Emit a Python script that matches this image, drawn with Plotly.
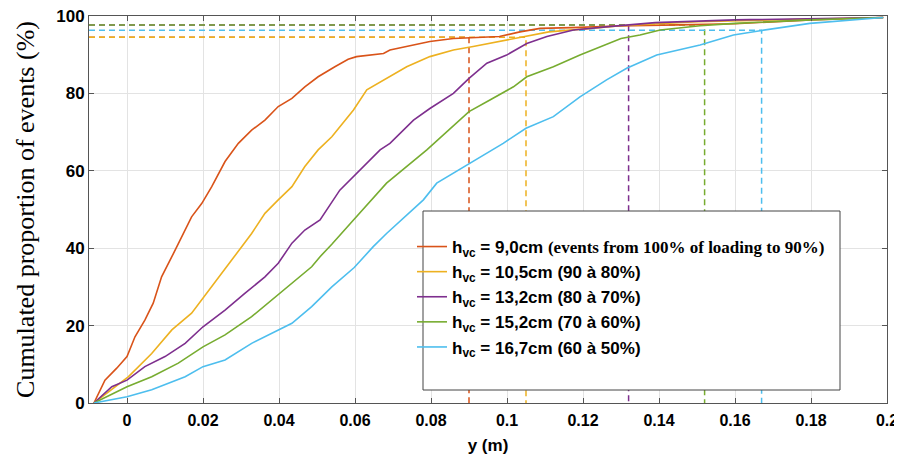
import plotly.graph_objects as go

# ---------------- data ----------------
series_names = [
    "<b>h<sub>vc</sub> = 9,0cm <span style=\"font-family:'Liberation Serif', serif\">(events from 100% of loading to 90%)</span></b>",
    "<b>h<sub>vc</sub> = 10,5cm (90 à 80%)</b>",
    "<b>h<sub>vc</sub> = 13,2cm (80 à 70%)</b>",
    "<b>h<sub>vc</sub> = 15,2cm (70 à 60%)</b>",
    "<b>h<sub>vc</sub> = 16,7cm (60 à 50%)</b>",
]
colors = ["#D95319", "#EDB120", "#7E2F8E", "#77AC30", "#4DBEEE"]

orange_x = [-0.0087, -0.0058, -0.0027, 0.0, 0.0021, 0.0047, 0.0069, 0.0091, 0.0118, 0.0144, 0.017, 0.0197,
            0.0223, 0.0258, 0.0293, 0.0328, 0.0363, 0.0398, 0.0434, 0.0468, 0.0503, 0.0547, 0.0582, 0.0604,
            0.0675, 0.0692, 0.0797, 0.0859, 0.098, 0.1034, 0.1087, 0.117, 0.129, 0.145, 0.16, 0.18, 0.199]
orange_y = [0, 5.9, 9.0, 12.0, 17.1, 21.4, 25.8, 32.6, 37.8, 43.0, 48.1, 51.6,
            55.9, 62.4, 67.1, 70.5, 73.1, 76.6, 78.7, 81.7, 84.3, 86.9, 88.8, 89.5,
            90.3, 91.2, 93.4, 94.2, 94.7, 95.9, 96.8, 97.0, 97.4, 97.7, 98.0, 99.0, 99.6]

yellow_x = [-0.0087, 0.0004, 0.0065, 0.0118, 0.017, 0.0223, 0.0276, 0.0328, 0.0363, 0.0398, 0.0434, 0.0468,
            0.0503, 0.0539, 0.0574, 0.0596, 0.0631, 0.0675, 0.0736, 0.0797, 0.0859, 0.0911, 0.098, 0.1052,
            0.111, 0.122, 0.13, 0.15, 0.17, 0.199]
yellow_y = [0, 6.8, 12.8, 18.9, 23.2, 30.0, 37.0, 43.8, 49.0, 52.5, 55.9, 61.1,
            65.4, 68.8, 73.1, 75.7, 80.9, 83.5, 86.9, 89.5, 91.2, 92.1, 93.4, 94.7,
            95.9, 96.8, 97.5, 98.5, 99.0, 99.6]

purple_x = [-0.0087, -0.004, 0.0, 0.0047, 0.01, 0.0153, 0.02, 0.0258, 0.031, 0.0363, 0.0398, 0.0434,
            0.0468, 0.0508, 0.056, 0.06, 0.0631, 0.0666, 0.0692, 0.0754, 0.0797, 0.0859, 0.09, 0.0947,
            0.0999, 0.1052, 0.1105, 0.1175, 0.126, 0.139, 0.16, 0.18, 0.199]
purple_y = [0, 4.2, 5.9, 9.4, 12.0, 15.4, 19.7, 24.0, 28.3, 32.6, 36.1, 41.3,
            44.7, 47.3, 55.0, 58.9, 61.9, 65.4, 67.1, 73.1, 76.1, 80.0, 83.9, 87.8,
            89.9, 92.9, 94.7, 96.4, 97.2, 98.3, 99.0, 99.3, 99.6]

green_x = [-0.0087, 0.0, 0.0065, 0.0135, 0.02, 0.0258, 0.0328, 0.038, 0.0434, 0.0486, 0.0508, 0.0539,
           0.0596, 0.0683, 0.0789, 0.09, 0.0955, 0.1017, 0.1052, 0.1122, 0.1192, 0.1245, 0.13, 0.135,
           0.1403, 0.1508, 0.16, 0.18, 0.199]
green_y = [0, 4.2, 6.8, 10.3, 14.5, 17.6, 22.3, 26.6, 30.9, 35.2, 37.8, 41.0,
           47.3, 56.8, 65.4, 75.3, 78.3, 81.7, 84.3, 86.9, 89.9, 92.1, 94.2, 95.1,
           96.4, 97.5, 98.1, 99.0, 99.6]

cyan_x = [-0.0087, 0.0, 0.0065, 0.0153, 0.02, 0.0258, 0.0328, 0.0398, 0.0434, 0.0486, 0.0539, 0.0598,
          0.0648, 0.0683, 0.078, 0.0815, 0.09, 0.099, 0.105, 0.1122, 0.1192, 0.1262, 0.1315, 0.1394,
          0.1508, 0.1596, 0.1666, 0.1736, 0.1797, 0.199]
cyan_y = [0, 1.6, 3.4, 6.8, 9.4, 11.1, 15.4, 18.9, 20.6, 24.9, 30.0, 35.0,
          40.4, 43.8, 52.5, 56.8, 61.9, 67.1, 71.0, 74.0, 79.1, 83.5, 86.5, 89.9,
          92.5, 95.1, 96.2, 97.3, 98.1, 99.6]

curves_x = [orange_x, yellow_x, purple_x, green_x, cyan_x]
curves_y = [orange_y, yellow_y, purple_y, green_y, cyan_y]

# threshold (dashed) markers
thresh_x = [0.09, 0.105, 0.132, 0.152, 0.167]
thresh_y = [94.5, 94.5, 97.7, 97.7, 96.3]

x_min, x_max = -0.01, 0.2
x_ticks = [0, 0.02, 0.04, 0.06, 0.08, 0.1, 0.12, 0.14, 0.16, 0.18, 0.2]
x_ticktext = ["0", "0.02", "0.04", "0.06", "0.08", "0.1", "0.12", "0.14", "0.16", "0.18", "0.2"]
y_ticks = [0, 20, 40, 60, 80, 100]

# ---------------- figure ----------------
fig = go.Figure()

for i in range(5):
    fig.add_trace(go.Scatter(
        x=[x_min, thresh_x[i], thresh_x[i]], y=[thresh_y[i], thresh_y[i], 0],
        mode="lines", line=dict(color=colors[i], width=1.5, dash="6px,4px"),
        showlegend=False, hoverinfo="skip"))

for i in range(5):
    fig.add_trace(go.Scatter(
        x=curves_x[i], y=curves_y[i], mode="lines", name=series_names[i],
        line=dict(color=colors[i], width=1.6)))

# page has an 8px body margin: the figure is sized so the plot lands where the reference has it
OFF = 8
W, H = 902 - OFF, 463 - OFF
ml, mr, mt, mb = 89 - OFF, 15, 16 - OFF, 60
pw, ph = W - ml - mr, H - mt - mb

def px2paper_x(p):
    return (p - 89) / pw

def px2paper_y(p):
    return (403 - p) / ph

# legend box
fig.add_shape(type="rect", xref="paper", yref="paper",
              x0=px2paper_x(423), x1=px2paper_x(840), y0=px2paper_y(390), y1=px2paper_y(211),
              fillcolor="white", line=dict(color="#444444", width=1), layer="above")

fig.update_layout(
    width=W, height=H,
    margin=dict(l=ml, r=mr, t=mt, b=mb, autoexpand=False),
    paper_bgcolor="white", plot_bgcolor="white",
    font=dict(family="Liberation Sans, Arial, sans-serif", color="black"),
    showlegend=True,
    legend=dict(x=px2paper_x(412), y=px2paper_y(229), xanchor="left", yanchor="top",
                bgcolor="rgba(0,0,0,0)", borderwidth=0,
                font=dict(family="Liberation Sans, Arial, sans-serif", size=17, color="black"),
                itemwidth=30),
)

fig.update_xaxes(
    range=[x_min, x_max], tickvals=x_ticks, ticktext=x_ticktext,
    showgrid=True, gridcolor="#e3e3e3", gridwidth=1, zeroline=False,
    showline=True, linecolor="#555555", linewidth=1, mirror="ticks",
    ticks="inside", ticklen=5, tickcolor="#555555", ticklabelstandoff=3,
    ticklabeloverflow="allow",
    tickfont=dict(family="Liberation Sans, Arial, sans-serif", size=16, color="black", weight="bold"),
    title=dict(text="y (m)", font=dict(family="Liberation Sans, Arial, sans-serif", size=17, color="black", weight="bold"), standoff=10),
)
fig.update_yaxes(
    range=[0, 100], tickvals=y_ticks,
    showgrid=True, gridcolor="#e3e3e3", gridwidth=1, zeroline=False,
    showline=True, linecolor="#555555", linewidth=1, mirror="ticks",
    ticks="inside", ticklen=5, tickcolor="#555555",
    ticklabeloverflow="allow",
    tickfont=dict(family="Liberation Sans, Arial, sans-serif", size=17, color="black", weight="bold"),
    title=dict(text="Cumulated proportion of events (%)", font=dict(family="Liberation Serif, Times New Roman, serif", size=26, color="black"), standoff=14),
)

fig.write_html("out.html")
